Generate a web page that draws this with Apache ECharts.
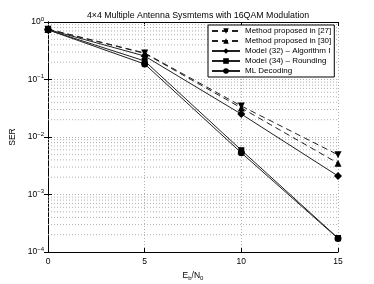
<!DOCTYPE html>
<html><head><meta charset="utf-8">
<script src="https://cdn.jsdelivr.net/npm/echarts@6/dist/echarts.min.js"></script>
<style>html,body{margin:0;padding:0;background:#fff}#c{width:374px;height:284px}</style>
</head><body><div id="c"></div>
<script>
var snr = [0, 5, 10, 15];
var m27 = [0.75, 0.29, 0.0346, 0.0049];
var m30 = [0.75, 0.285, 0.032, 0.0035];
var alg1 = [0.74, 0.256, 0.025, 0.0021];
var rounding = [0.73, 0.21, 0.0059, 0.000175];
var ml = [0.73, 0.186, 0.0053, 0.000172];
var names = ['Method proposed in [27]', 'Method proposed in [30]', 'Model (32) \u2013 Algorithm I', 'Model (34) \u2013 Rounding', 'ML Decoding'];
var xTicks = [0, 5, 10, 15];
var minorVals = [];
[1e-4, 1e-3, 1e-2, 1e-1].forEach(function (d) { for (var k = 2; k <= 9; k++) minorVals.push(d * k); });

var F = 'Liberation Sans, Arial, sans-serif';
function mk(name, data, sym, dashed, symSize) {
  return {
    name: name, type: 'line', data: data.map(function (v, i) { return [snr[i], v]; }),
    symbol: sym, symbolSize: symSize || 7, showSymbol: true,
    lineStyle: { color: '#222', width: 1, type: dashed ? [6, 4] : 'solid' },
    itemStyle: { color: '#000' }, z: 5, animation: false
  };
}
var triDown = 'path://M0,0 L10,0 L5,9 Z';
var series = [];
minorVals.forEach(function (v) {
  series.push({ type: 'line', silent: true, symbol: 'none', z: 1, animation: false,
    data: [[xTicks[0], v], [xTicks[xTicks.length - 1], v]],
    lineStyle: { color: '#b0b0b0', type: [1, 2], width: 1 } });
});
series.push(
  mk(names[0], m27, triDown, true, 7),
  mk(names[1], m30, 'triangle', true, 7),
  mk(names[2], alg1, 'diamond', false, 8),
  mk(names[3], rounding, 'rect', false, 6),
  mk(names[4], ml, 'circle', false, 7)
);
var chart = echarts.init(document.getElementById('c'), null, { renderer: 'canvas' });
chart.setOption({
  animation: false,
  backgroundColor: '#fff',
  title: { text: '4\u00d74 Multiple Antenna Sysmtems with 16QAM Modulation', left: 193, textAlign: 'center', top: 6,
    textStyle: { fontFamily: F, fontSize: 8.8, fontWeight: 'normal', color: '#000' } },
  grid: { left: 48, right: 36, top: 22, bottom: 32, containLabel: false, outerBoundsMode: 'none' },
  legend: {
    orient: 'vertical', left: 208, top: 25, itemWidth: 28, itemHeight: 7, itemGap: 2,
    padding: [2, 3, 2, 3], borderColor: '#000', borderWidth: 1, backgroundColor: '#fff',
    textStyle: { fontFamily: F, fontSize: 8, color: '#000' },
    data: names
  },
  xAxis: [{
    type: 'value', min: 0, max: 15, interval: 5,
    name: '{n|E}{s|b}{n|/N}{s|0}', nameLocation: 'middle', nameGap: 18,
    nameTextStyle: { rich: { n: { fontFamily: F, fontSize: 8.5, color: '#000' }, s: { fontFamily: F, fontSize: 6, color: '#000', padding: [5, 0, 0, 0] } } },
    axisLine: { lineStyle: { color: '#000', width: 1 } },
    axisTick: { inside: true, length: 4, lineStyle: { color: '#000' } },
    axisLabel: { fontFamily: F, fontSize: 8.5, color: '#000', margin: 5 },
    splitLine: { show: true, lineStyle: { color: '#b0b0b0', type: [1, 2] } }
  }, {
    type: 'value', min: 0, max: 15, interval: 5, position: 'top',
    axisLine: { lineStyle: { color: '#000', width: 1 } },
    axisTick: { inside: true, length: 4, lineStyle: { color: '#000' } },
    axisLabel: { show: false }, splitLine: { show: false }
  }],
  yAxis: [{
    type: 'log', logBase: 10, min: 0.0001, max: 1,
    name: 'SER', nameLocation: 'middle', nameGap: 23, nameRotate: 90,
    nameTextStyle: { fontFamily: F, fontSize: 8.5, color: '#000' },
    axisLine: { lineStyle: { color: '#000', width: 1 } },
    axisTick: { inside: true, length: 4, lineStyle: { color: '#000' } },
    axisLabel: {
      margin: 4, color: '#000',
      formatter: function (v) { var e = Math.round(Math.log10(v)); return '{b|10}{s|' + (e < 0 ? '\u2212' + (-e) : e) + '}'; },
      rich: { b: { fontFamily: F, fontSize: 8.5, color: '#000' }, s: { fontFamily: F, fontSize: 6, color: '#000', padding: [0, 0, 6, 0] } }
    },
    splitLine: { show: true, lineStyle: { color: '#b0b0b0', type: [1, 2] } }
  }, {
    type: 'log', logBase: 10, min: 0.0001, max: 1, position: 'right',
    axisLine: { lineStyle: { color: '#000', width: 1 } },
    axisTick: { inside: true, length: 4, lineStyle: { color: '#000' } },
    axisLabel: { show: false }, splitLine: { show: false }
  }],
  series: series
});
</script></body></html>
